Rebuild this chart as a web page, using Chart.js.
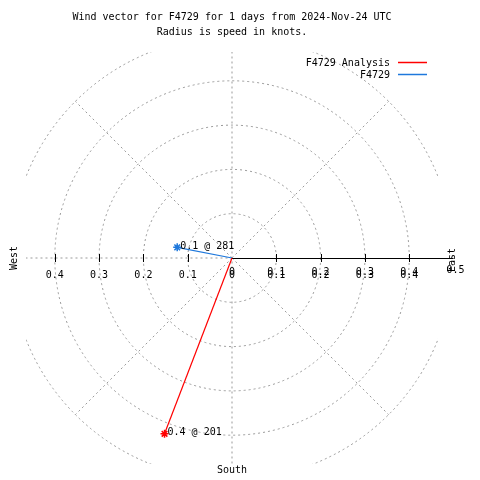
<!DOCTYPE html>
<html>
<head>
<meta charset="utf-8">
<script src="https://cdn.jsdelivr.net/npm/chart.js@4/dist/chart.umd.min.js"></script>
<style>
  body { margin: 0; background: #fff; }
  #wrap { width: 480px; height: 480px; }
</style>
</head>
<body>
<div id="wrap"><canvas id="wind"></canvas></div>
<script>
const titleLines = [
  "Wind vector for F4729 for 1 days from 2024-Nov-24 UTC",
  "Radius is speed in knots."
];
const names = ["F4729 Analysis", "F4729"];
const speeds = [0.425, 0.126];
const directions = [201, 281];
const colors = ["#ff0000", "#1e78dc"];
const rings = [0.1, 0.2, 0.3, 0.4, 0.5];
const tickValues = [0.1, 0.2, 0.3, 0.4];
const tickLabels = ["0.1", "0.2", "0.3", "0.4"];
const compass = ["East", "West", "South"];

const monoFont = "10px 'DejaVu Sans Mono', 'Liberation Mono', monospace";
const gridColor = "#999999";

// vector end point: direction is compass bearing, clockwise from north
function endPoint(speed, dir) {
  const rad = dir * Math.PI / 180;
  return { x: speed * Math.sin(rad), y: speed * Math.cos(rad) };
}

const datasets = names.map((name, i) => ({
  label: name,
  data: [{ x: 0, y: 0 }, endPoint(speeds[i], directions[i])],
  showLine: true,
  borderColor: colors[i],
  backgroundColor: colors[i],
  borderWidth: 1.2,
  pointStyle: "star",
  pointRadius: [0, 4],
  pointBorderWidth: 1.5,
  pointBorderColor: colors[i]
}));

const polarGrid = {
  id: "polarGrid",
  beforeDatasetsDraw(chart) {
    const { ctx, chartArea: a, scales: { x, y } } = chart;
    const cx = x.getPixelForValue(0);
    const cy = y.getPixelForValue(0);

    ctx.save();
    ctx.beginPath();
    ctx.rect(a.left, a.top, a.right - a.left, a.bottom - a.top);
    ctx.clip();
    ctx.strokeStyle = gridColor;
    ctx.lineWidth = 1;
    ctx.setLineDash([2, 3]);

    rings.forEach(r => {
      ctx.beginPath();
      ctx.arc(cx, cy, x.getPixelForValue(r) - cx, 0, Math.PI * 2);
      ctx.stroke();
    });

    [45, 135, 225, 315].forEach(deg => {
      const p = endPoint(0.5, deg);
      ctx.beginPath();
      ctx.moveTo(cx, cy);
      ctx.lineTo(x.getPixelForValue(p.x), y.getPixelForValue(p.y));
      ctx.stroke();
    });

    ctx.beginPath();
    ctx.moveTo(cx, y.getPixelForValue(0.5));
    ctx.lineTo(cx, y.getPixelForValue(-0.5));
    ctx.moveTo(x.getPixelForValue(-0.5), cy);
    ctx.lineTo(cx, cy);
    ctx.stroke();
    ctx.restore();

    // east axis: solid, runs out to 0.5
    ctx.save();
    ctx.strokeStyle = "#000";
    ctx.lineWidth = 1;
    ctx.beginPath();
    ctx.moveTo(cx, cy + 0.5);
    ctx.lineTo(x.getPixelForValue(0.5), cy + 0.5);
    tickValues.forEach(v => {
      [v, -v].forEach(t => {
        const tx = Math.round(x.getPixelForValue(t)) + 0.5;
        ctx.moveTo(tx, cy - 4);
        ctx.lineTo(tx, cy + 4);
      });
    });
    ctx.stroke();

    ctx.fillStyle = "#000";
    ctx.font = monoFont;
    ctx.textAlign = "center";
    ctx.textBaseline = "middle";
    tickLabels.forEach((lab, i) => {
      ctx.fillText(lab, x.getPixelForValue(-tickValues[i]), cy + 17);
      ctx.fillText(lab, x.getPixelForValue(tickValues[i]), cy + 17);
      ctx.fillText(lab, x.getPixelForValue(tickValues[i]), cy + 14);
    });
    ctx.fillText("0", cx, cy + 17);
    ctx.fillText("0", cx, cy + 14);
    ctx.fillText("0.5", x.getPixelForValue(0.5) + 2, cy + 12);
    ctx.restore();
  },
  afterDatasetsDraw(chart) {
    const { ctx, scales: { x, y } } = chart;
    const cx = x.getPixelForValue(0);
    const cy = y.getPixelForValue(0);

    ctx.save();
    ctx.font = monoFont;
    ctx.textBaseline = "middle";

    // value labels at vector tips
    ctx.fillStyle = "#000";
    ctx.textAlign = "left";
    names.forEach((n, i) => {
      const p = endPoint(speeds[i], directions[i]);
      ctx.fillText(speeds[i].toFixed(1) + " @ " + directions[i],
        x.getPixelForValue(p.x) + 3, y.getPixelForValue(p.y) - 1);
    });

    // legend, text right aligned with a line sample after it
    ctx.textAlign = "right";
    names.forEach((n, i) => {
      const ly = 62 + i * 12;
      ctx.fillStyle = "#000";
      ctx.fillText(n, 390, ly + 1);
      ctx.strokeStyle = colors[i];
      ctx.lineWidth = 1.5;
      ctx.beginPath();
      ctx.moveTo(398, ly + 0.5);
      ctx.lineTo(427, ly + 0.5);
      ctx.stroke();
    });

    // compass words
    ctx.fillStyle = "#000";
    ctx.textAlign = "center";
    ctx.fillText(compass[2], cx, 470);
    ctx.save();
    ctx.translate(x.getPixelForValue(0.5) - 1, cy + 2);
    ctx.rotate(-Math.PI / 2);
    ctx.fillText(compass[0], 0, 0);
    ctx.restore();
    ctx.save();
    ctx.translate(14, cy);
    ctx.rotate(-Math.PI / 2);
    ctx.fillText(compass[1], 0, 0);
    ctx.restore();
    ctx.restore();
  }
};

new Chart(document.getElementById("wind"), {
  type: "scatter",
  data: { datasets: datasets },
  options: {
    responsive: true,
    maintainAspectRatio: false,
    animation: false,
    layout: {
      padding: { left: 26, right: 42, top: 10, bottom: 16 }
    },
    scales: {
      x: { type: "linear", min: -0.465, max: 0.465, display: false },
      y: { type: "linear", min: -0.465, max: 0.465, display: false }
    },
    plugins: {
      legend: { display: false },
      tooltip: { enabled: false },
      title: {
        display: true,
        text: titleLines,
        color: "#000",
        font: { family: "'DejaVu Sans Mono', 'Liberation Mono', monospace", size: 10, weight: "normal", lineHeight: 1.5 },
        padding: { top: 0, bottom: 12 }
      }
    }
  },
  plugins: [polarGrid]
});
</script>
</body>
</html>
